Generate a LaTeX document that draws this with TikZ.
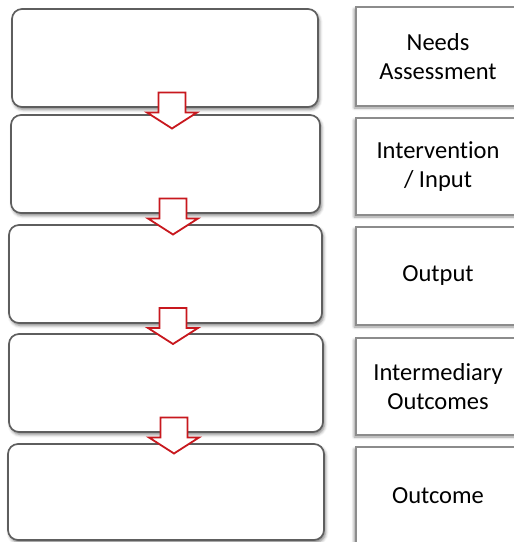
\documentclass[tikz,border=0pt]{standalone}
\usepackage{fontspec}
\setmainfont[Ligatures=NoCommon]{Carlito}
\usetikzlibrary{shadows.blur}
\definecolor{arrowred}{HTML}{C8181E}
\definecolor{leftline}{HTML}{5E5E5E}
\definecolor{rightline}{HTML}{8C8C8C}
\tikzset{
  leftbox/.style={draw=leftline, line width=1.7pt, fill=white, rounded corners=10pt,
    inner sep=0pt, minimum height=98pt,
    blur shadow={shadow xshift=1.5pt, shadow yshift=-2.5pt, shadow blur radius=3pt, shadow opacity=50}},
  rightbox/.style={draw=rightline, line width=1.2pt, fill=white, inner sep=0pt,
    minimum width=164pt, align=center, text=black,
    font=\fontsize{24.5}{29}\selectfont,
    blur shadow={shadow xshift=-2pt, shadow yshift=-2pt, shadow blur radius=2.5pt, shadow opacity=40}},
  blockarrow/.style={draw=arrowred, line width=1.8pt, fill=white, line join=miter}
}
\begin{document}
\begin{tikzpicture}[x=1pt,y=-1pt]
\useasboundingbox (0,0) rectangle (514,542);
% left boxes
\node[leftbox, minimum width=306pt] (L1) at (165,58) {};
\node[leftbox, minimum width=309pt] (L2) at (165.5,164) {};
\node[leftbox, minimum width=313pt] (L3) at (165.5,274) {};
\node[leftbox, minimum width=314pt] (L4) at (166,383) {};
\node[leftbox, minimum width=316pt, minimum height=96pt] (L5) at (166,492) {};
% right boxes
\node[rightbox, minimum height=99pt] (R1) at (438,56.5) {Needs\\Assessment};
\node[rightbox, minimum height=97pt] (R2) at (438,166.5) {Intervention\\/ Input};
\node[rightbox, minimum height=98pt] (R3) at (438,276) {Output};
\node[rightbox, minimum height=97pt] (R4) at (438,386.5) {Intermediary\\Outcomes};
\node[rightbox, minimum height=98pt] (R5) at (438,496) {Outcome};
% block arrows between left boxes
\coordinate (a1) at (172,112.5);
\coordinate (a2) at (173,218.5);
\coordinate (a3) at (173,328);
\coordinate (a4) at (174,437.5);
\foreach \a in {a1,a2,a3,a4}{
  \draw[blockarrow] (\a) ++(-13.5,-20) -- ++(27,0) -- ++(0,20) -- ++(11.5,0)
    -- ++(-25,16) -- ++(-25,-16) -- ++(11.5,0) -- cycle;
}
\end{tikzpicture}
\end{document}
